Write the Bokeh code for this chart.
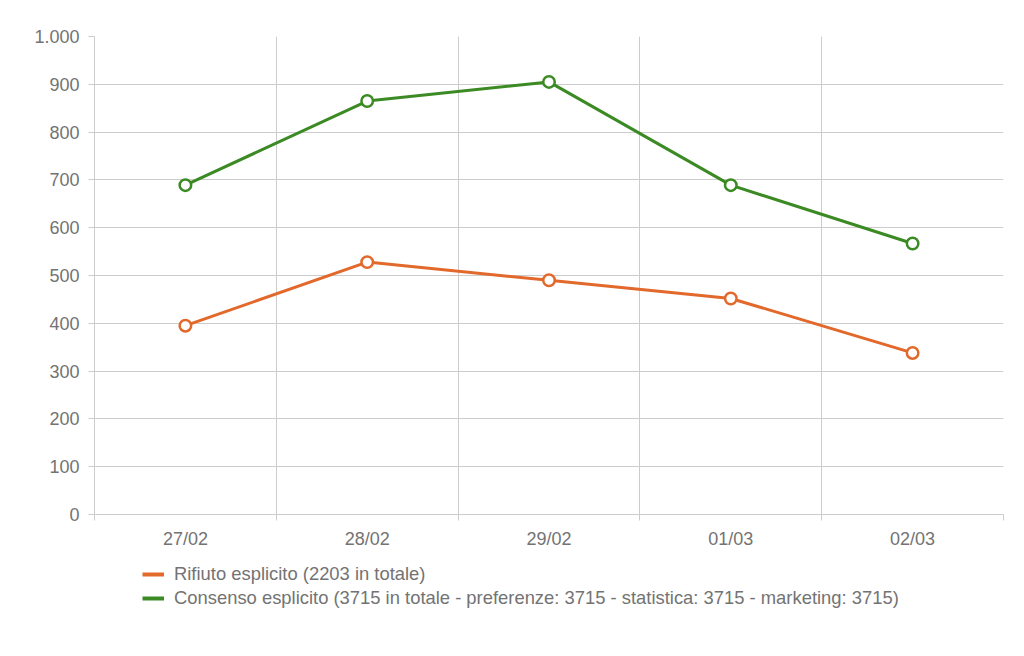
from bokeh.plotting import figure
from bokeh.layouts import column
from bokeh.models import FixedTicker, Legend, LegendItem, ColumnDataSource, Range1d
from bokeh.embed import file_html
from bokeh.resources import INLINE

categories = ["27/02", "28/02", "29/02", "01/03", "02/03"]
rifiuto = [395, 528, 490, 452, 338]
consenso = [689, 865, 905, 689, 567]
y_ticks = [0, 100, 200, 300, 400, 500, 600, 700, 800, 900, 1000]
legend_labels = [
    "Rifiuto esplicito (2203 in totale)",
    "Consenso esplicito (3715 in totale - preferenze: 3715 - statistica: 3715 - marketing: 3715)",
]

ORANGE = "#e2692b"
GREEN = "#3b8a23"
GRID = "#cccccc"
TEXT = "#737373"
FONT = "Liberation Sans"

x = [i + 0.5 for i in range(len(categories))]

p = figure(frame_width=909, frame_height=478, output_backend="svg", toolbar_location=None,
           x_range=Range1d(0, len(categories)), y_range=Range1d(0, 1000),
           min_border_left=94, min_border_top=36, min_border_right=7, min_border_bottom=40)
p.outline_line_color = None
p.background_fill_color = "white"

# x axis
p.xaxis.ticker = FixedTicker(ticks=x, minor_ticks=list(range(len(categories) + 1)))
p.xaxis.major_label_overrides = {xi: c for xi, c in zip(x, categories)}
p.xaxis.major_tick_line_color = None
p.xaxis.major_tick_out = 6
p.xaxis.minor_tick_out = 6
p.xaxis.minor_tick_in = 0
p.xaxis.minor_tick_line_color = GRID
p.xaxis.axis_line_color = GRID
p.xaxis.major_label_standoff = 8
p.xaxis.major_label_text_font = FONT
p.xaxis.major_label_text_font_size = "18px"
p.xaxis.major_label_text_color = TEXT

# y axis
p.yaxis.ticker = FixedTicker(ticks=y_ticks, minor_ticks=[])
p.yaxis.major_label_overrides = {1000: "1.000"}
p.yaxis.major_tick_out = 6
p.yaxis.major_tick_in = 0
p.yaxis.major_tick_line_color = GRID
p.yaxis.axis_line_color = GRID
p.yaxis.major_label_standoff = 9
p.yaxis.major_label_text_font = FONT
p.yaxis.major_label_text_font_size = "18px"
p.yaxis.major_label_text_color = TEXT

p.xgrid.ticker = FixedTicker(ticks=list(range(len(categories) + 1)))
p.xgrid.grid_line_color = GRID
p.ygrid.grid_line_color = GRID

for vals, col in [(rifiuto, ORANGE), (consenso, GREEN)]:
    src = ColumnDataSource(dict(x=x, y=vals))
    p.line("x", "y", source=src, line_color=col, line_width=3)
    p.scatter("x", "y", source=src, size=11.5, fill_color="white", line_color=col, line_width=2.5)

# legend-only figure below the chart
lf = figure(frame_width=1010, frame_height=80, output_backend="svg", toolbar_location=None,
            x_axis_type=None, y_axis_type=None, x_range=Range1d(0, 1), y_range=Range1d(0, 1),
            min_border=0)
lf.outline_line_color = None
lf.xgrid.visible = False
lf.ygrid.visible = False
# legend swatches: renderers whose (off-range) points are never visible in the frame
leg_r = lf.line(x=[-5, -4], y=[-5, -5], line_color=ORANGE, line_width=4)
leg_g = lf.line(x=[-5, -4], y=[-5, -5], line_color=GREEN, line_width=4)

legend = Legend(items=[LegendItem(label=legend_labels[0], renderers=[leg_r]),
                       LegendItem(label=legend_labels[1], renderers=[leg_g])],
                location=(142, 25), orientation="vertical", border_line_color=None,
                background_fill_alpha=0, label_text_font=FONT, label_text_font_size="18.4px",
                label_text_color=TEXT, glyph_width=22, glyph_height=20, spacing=2,
                label_standoff=10, padding=0, margin=0)
lf.add_layout(legend, "center")

layout = column(p, lf, spacing=0)
open("out.html", "w").write(file_html(layout, INLINE))
